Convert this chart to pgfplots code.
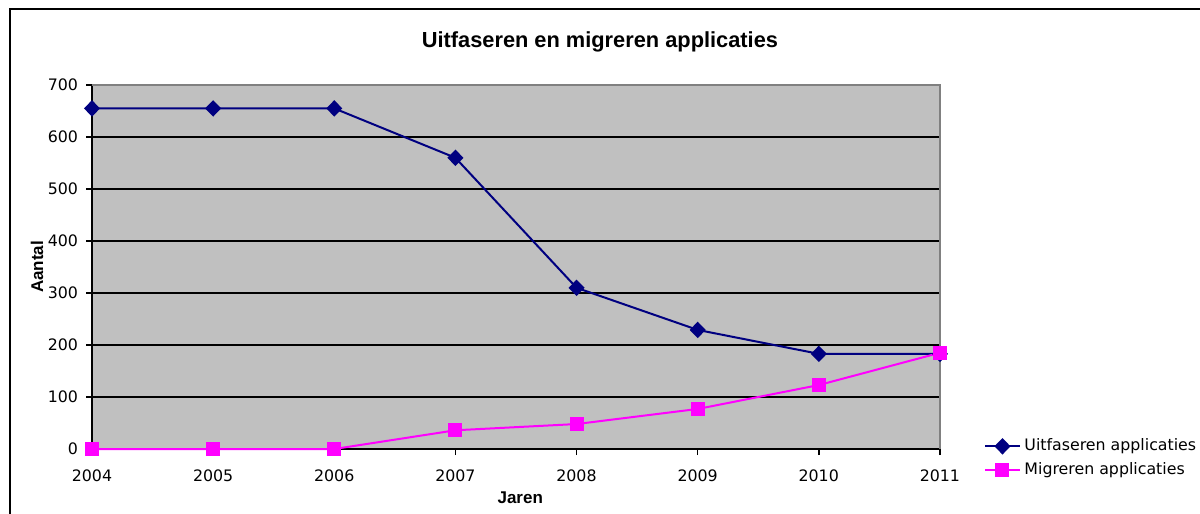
\documentclass[border=0pt]{standalone}
\usepackage{pgfplots}
\pgfplotsset{compat=1.18}
\usepackage{fontspec}
\setmainfont{Liberation Sans}
\newfontfamily\dejavu{DejaVu Sans}
\definecolor{bggray}{HTML}{C0C0C0}
\definecolor{navyc}{HTML}{000080}
\definecolor{magc}{HTML}{FF00FF}
\begin{document}
\begin{tikzpicture}
\useasboundingbox (0,0) rectangle (600bp,257bp);
\draw[line width=1bp] (5bp,0) -- (5bp,252.5bp) -- (600bp,252.5bp);
\begin{axis}[
  at={(46bp,32.5bp)}, anchor=south west,
  scale only axis, width=424bp, height=182bp,
  xmin=2004, xmax=2011, ymin=0, ymax=700,
  xtick={2004,...,2011},
  minor x tick num=1,
  ytick={0,100,...,700},
  tick align=outside,
  major tick length=3bp, minor tick length=3bp,
  tick style={black, line width=0.8bp},
  axis x line*=bottom, axis y line*=left,
  axis line style={black, line width=1bp, -},
  ymajorgrids, major grid style={black, line width=0.8bp},
  axis background/.style={fill=bggray},
  /pgf/number format/1000 sep={},
  /pgf/number format/assume math mode=true,
  ticklabel style={font=\dejavu\fontsize{7.9bp}{9bp}\selectfont},
  yticklabel style={xshift=-0.5bp},
  xticklabel style={yshift=-3.8bp},
  title={Uitfaseren en migreren applicaties},
  title style={font=\bfseries\fontsize{10.9bp}{12bp}\selectfont, at={(axis description cs:0.599,1.085)}, anchor=center},
  xlabel={Jaren}, ylabel={Aantal},
  xlabel style={font=\bfseries\fontsize{8.5bp}{10bp}\selectfont, at={(axis description cs:0.505,-0.1346)}, anchor=center},
  ylabel style={font=\bfseries\fontsize{8.5bp}{10bp}\selectfont, at={(axis description cs:-0.0649,0.5)}, anchor=center, rotate=0},
  clip=false,
  legend style={at={(axis description cs:1.052,0.04)}, anchor=north west, draw=none, fill=none,
     font=\dejavu\fontsize{7.9bp}{9bp}\selectfont, inner sep=0pt, row sep=0.2bp},
  legend cell align=left,
]
\draw[gray, line width=0.6bp] (rel axis cs:0,1) -- (rel axis cs:1,1) -- (rel axis cs:1,0);
\addplot[navyc, line width=1bp, mark=diamond*, mark size=3.4bp, mark options={xscale=1.3, fill=navyc}]
  coordinates {(2004,655) (2005,655) (2006,655) (2007,560) (2008,310) (2009,229) (2010,183) (2011,183)};
\addlegendentry{Uitfaseren applicaties}
\addplot[magc, line width=1bp, mark=square*, mark size=3bp, mark options={fill=magc}]
  coordinates {(2004,0) (2005,0) (2006,0) (2007,36) (2008,48) (2009,77) (2010,123) (2011,185)};
\addlegendentry{Migreren applicaties}
\end{axis}
\end{tikzpicture}
\end{document}
